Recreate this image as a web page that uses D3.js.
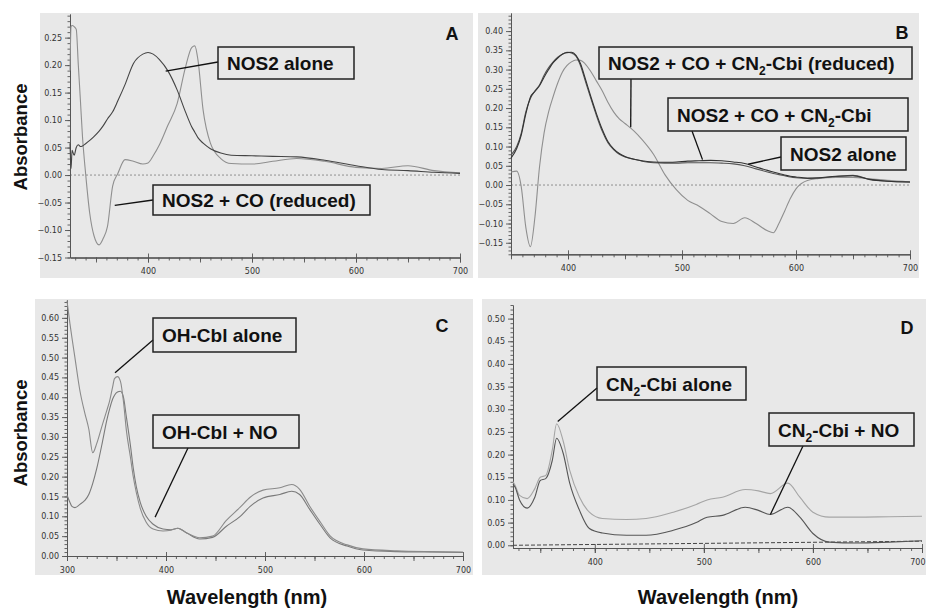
<!DOCTYPE html>
<html>
<head>
<meta charset="utf-8">
<script src="https://cdnjs.cloudflare.com/ajax/libs/d3/7.8.5/d3.min.js"></script>
<style>
body { margin: 0; background: #fff; }
svg { display: block; }
.tick text { font-family: "DejaVu Sans", sans-serif; font-size: 8px; fill: #333; }
</style>
</head>
<body>
<svg id="viz" width="926" height="614"></svg>
<script>
// panel A: NOS2 alone vs NOS2 + CO (reduced)
var waveA = [325, 326, 327, 329, 331, 333, 335, 337, 340, 344, 348, 353, 357, 361, 366, 371, 378, 386, 395, 400, 405, 411, 419, 428, 436, 442, 445, 448, 453, 460, 470, 480, 500, 520, 543, 570, 600, 625, 650, 675, 700];
var nos2AloneA = [0.058, 0.012, 0.045, 0.036, 0.05, 0.055, 0.052, 0.053, 0.057, 0.063, 0.07, 0.08, 0.09, 0.102, 0.115, 0.135, 0.165, 0.203, 0.22, 0.223, 0.22, 0.21, 0.19, 0.155, 0.115, 0.088, 0.078, 0.068, 0.058, 0.048, 0.04, 0.036, 0.035, 0.034, 0.033, 0.027, 0.017, 0.01, 0.008, 0.005, 0.003];
var nos2CoA = [0.19, 0.27, 0.272, 0.27, 0.265, 0.2, 0.136, 0.07, 0.003, -0.07, -0.11, -0.127, -0.115, -0.094, -0.02, 0.003, 0.028, 0.025, 0.02, 0.022, 0.035, 0.055, 0.09, 0.13, 0.196, 0.232, 0.235, 0.21, 0.118, 0.058, 0.03, 0.021, 0.02, 0.025, 0.03, 0.025, 0.014, 0.012, 0.017, 0.008, 0.004];

// panel B: NOS2 alone, NOS2 + CO + CN2-Cbi, same reduced
var waveB = [350, 355, 359, 363, 367, 371, 375, 379, 383, 387, 391, 395, 399, 403, 407, 411, 415, 420, 425, 430, 435, 440, 445, 450, 458, 465, 475, 485, 495, 505, 515, 525, 535, 545, 555, 565, 575, 580, 585, 590, 595, 600, 610, 620, 635, 650, 665, 680, 700];
var nos2AloneB = [0.078, 0.1, 0.135, 0.19, 0.225, 0.245, 0.26, 0.285, 0.305, 0.32, 0.332, 0.34, 0.345, 0.343, 0.335, 0.31, 0.272, 0.225, 0.18, 0.14, 0.11, 0.092, 0.08, 0.073, 0.067, 0.062, 0.058, 0.057, 0.057, 0.058, 0.058, 0.058, 0.057, 0.055, 0.05, 0.042, 0.034, 0.03, 0.027, 0.024, 0.021, 0.019, 0.017, 0.018, 0.022, 0.025, 0.015, 0.01, 0.008];
var nos2CoCbiB = [0.07, 0.095, 0.13, 0.185, 0.228, 0.243, 0.258, 0.28, 0.3, 0.318, 0.33, 0.34, 0.344, 0.345, 0.337, 0.315, 0.278, 0.23, 0.185, 0.145, 0.113, 0.094, 0.082, 0.074, 0.067, 0.063, 0.06, 0.059, 0.06, 0.062, 0.063, 0.064, 0.063, 0.06, 0.056, 0.047, 0.038, 0.034, 0.03, 0.026, 0.023, 0.021, 0.018, 0.019, 0.023, 0.024, 0.014, 0.01, 0.008];
var nos2CoCbiRedB = [0.034, 0.036, -0.005, -0.11, -0.16, -0.083, 0.047, 0.135, 0.19, 0.23, 0.265, 0.293, 0.31, 0.32, 0.325, 0.324, 0.315, 0.295, 0.27, 0.245, 0.215, 0.19, 0.172, 0.16, 0.14, 0.118, 0.08, 0.027, -0.012, -0.04, -0.055, -0.075, -0.095, -0.1, -0.085, -0.1, -0.119, -0.124, -0.1, -0.068, -0.035, -0.01, 0.012, 0.017, 0.02, 0.02, 0.016, 0.012, 0.008];

// panel C: OH-Cbl alone vs OH-Cbl + NO
var waveC = [300, 303, 305, 308, 313, 318, 322, 326, 330, 336, 340, 343, 346, 348, 351, 354, 357, 360, 364, 367, 370, 374, 380, 387, 397, 405, 412, 421, 434, 447, 461, 475, 485, 498, 515, 527, 535, 545, 556, 566, 583, 599, 633, 665, 700];
var ohCblAloneC = [0.643, 0.585, 0.55, 0.5, 0.417, 0.36, 0.32, 0.26, 0.283, 0.333, 0.365, 0.39, 0.425, 0.447, 0.452, 0.44, 0.39, 0.316, 0.25, 0.199, 0.16, 0.12, 0.085, 0.068, 0.063, 0.065, 0.07, 0.058, 0.046, 0.05, 0.09, 0.123, 0.148, 0.166, 0.172, 0.18, 0.168, 0.126, 0.085, 0.05, 0.028, 0.018, 0.013, 0.011, 0.01];
var ohCblNoC = [0.153, 0.135, 0.125, 0.122, 0.13, 0.14, 0.155, 0.183, 0.22, 0.29, 0.34, 0.37, 0.395, 0.405, 0.413, 0.415, 0.4, 0.35, 0.28, 0.22, 0.175, 0.135, 0.1, 0.08, 0.068, 0.066, 0.07, 0.058, 0.043, 0.047, 0.075, 0.1, 0.125, 0.146, 0.155, 0.163, 0.155, 0.118, 0.078, 0.045, 0.025, 0.015, 0.011, 0.01, 0.009];

// panel D: CN2-Cbi alone vs CN2-Cbi + NO
var waveD = [325, 327, 331, 338, 345, 350, 355, 361, 365, 371, 377, 386, 395, 407, 429, 447, 472, 493, 503, 517, 538, 550, 561, 577, 588, 600, 615, 640, 670, 700];
var cn2CbiAloneD = [0.14, 0.132, 0.11, 0.103, 0.125, 0.15, 0.154, 0.21, 0.268, 0.23, 0.165, 0.106, 0.073, 0.059, 0.057, 0.059, 0.073, 0.09, 0.1, 0.106, 0.123, 0.12, 0.114, 0.137, 0.106, 0.073, 0.062, 0.062, 0.063, 0.064];
var cn2CbiNoD = [0.135, 0.128, 0.1, 0.082, 0.106, 0.143, 0.147, 0.187, 0.236, 0.203, 0.137, 0.077, 0.037, 0.027, 0.022, 0.022, 0.033, 0.05, 0.062, 0.066, 0.084, 0.077, 0.068, 0.084, 0.062, 0.026, 0.007, 0.005, 0.007, 0.01];
var baseWaveD = [325, 700];
var baseLineD = [0.0, 0.009];

// tick labels
var yTicksA = [-0.15, -0.10, -0.05, 0.00, 0.05, 0.10, 0.15, 0.20, 0.25];
var yTicksB = [-0.15, -0.10, -0.05, 0.00, 0.05, 0.10, 0.15, 0.20, 0.25, 0.30, 0.35, 0.40];
var yTicksC = [0.00, 0.05, 0.10, 0.15, 0.20, 0.25, 0.30, 0.35, 0.40, 0.45, 0.50, 0.55, 0.60];
var yTicksD = [0.00, 0.05, 0.10, 0.15, 0.20, 0.25, 0.30, 0.35, 0.40, 0.45, 0.50];
var xTicksA = [400, 500, 600, 700];
var xTicksB = [400, 500, 600, 700];
var xTicksC = [300, 400, 500, 600, 700];
var xTicksD = [400, 500, 600, 700];

var svg = d3.select("#viz");

// the four panels, layout only
var panels = [
	{
		letter: "A", bg: [40, 13, 433, 265], letterAt: [452, 40],
		xDomain: [325, 700], xRange: [70, 460], yDomain: [-0.15, 0.293], yRange: [257.5, 14],
		xTicks: xTicksA, yTicks: yTicksA, zeroLine: true,
		series: [
			{wave: waveA, vals: nos2CoA, color: "#8f8f8f"},
			{wave: waveA, vals: nos2AloneA, color: "#444"}
		],
		notes: [
			{box: [218, 47, 136, 32], text: "NOS2 alone", from: [218, 62], to: [417, 0.189]},
			{box: [153, 185, 217, 30], text: "NOS2 + CO (reduced)", from: [153, 200], to: [368, -0.055]}
		]
	},
	{
		letter: "B", bg: [478, 13, 441, 265], letterAt: [902, 39],
		xDomain: [350, 700], xRange: [511, 910], yDomain: [-0.18, 0.447], yRange: [254.3, 13],
		xTicks: xTicksB, yTicks: yTicksB, zeroLine: true,
		series: [
			{wave: waveB, vals: nos2CoCbiRedB, color: "#8f8f8f"},
			{wave: waveB, vals: nos2AloneB, color: "#555"},
			{wave: waveB, vals: nos2CoCbiB, color: "#333"}
		],
		notes: [
			{box: [599, 47, 313, 32], text: "NOS2 + CO + CN_2-Cbi (reduced)", from: [631, 79], to: [455, 0.15]},
			{box: [668, 98, 240, 33], text: "NOS2 + CO + CN_2-Cbi", from: [692, 131], to: [518, 0.066]},
			{box: [781, 137, 125, 33], text: "NOS2 alone", from: [781, 157], to: [558, 0.054]}
		]
	},
	{
		letter: "C", bg: [35, 299, 438, 276], letterAt: [442, 332],
		xDomain: [300, 700], xRange: [67, 463], yDomain: [0, 0.645], yRange: [556, 300],
		xTicks: xTicksC, yTicks: yTicksC, zeroLine: false,
		series: [
			{wave: waveC, vals: ohCblNoC, color: "#7a7a7a"},
			{wave: waveC, vals: ohCblAloneC, color: "#8a8a8a"}
		],
		notes: [
			{box: [153, 318, 143, 34], text: "OH-Cbl alone", from: [153, 340], to: [348.5, 0.462]},
			{box: [153, 415, 146, 33], text: "OH-Cbl + NO", from: [188, 448], to: [389, 0.098]}
		]
	},
	{
		letter: "D", bg: [482, 299, 444, 276], letterAt: [907, 334],
		xDomain: [325, 700], xRange: [513, 922], yDomain: [-0.006, 0.53], yRange: [548, 305],
		xTicks: xTicksD, yTicks: yTicksD, zeroLine: false,
		series: [
			{wave: baseWaveD, vals: baseLineD, color: "#444", dash: "4,2"},
			{wave: waveD, vals: cn2CbiAloneD, color: "#a5a5a5"},
			{wave: waveD, vals: cn2CbiNoD, color: "#555"}
		],
		notes: [
			{box: [597, 367, 149, 33], text: "CN_2-Cbi alone", from: [597, 388], to: [366, 0.273]},
			{box: [769, 413, 145, 33], text: "CN_2-Cbi + NO", from: [803, 446], to: [561, 0.068]}
		]
	}
];

// writes a label, "_2" becomes a subscript 2
function writeLabel(textSel, label){

	var parts = label.split("_2");
	parts.forEach(function(part, i){
		if(i > 0){
			textSel.append("tspan").attr("font-size", 12).attr("dy", 5).text("2");
			textSel.append("tspan").attr("dy", -5).text(part);
		}
		else{
			textSel.append("tspan").text(part);
		}
	});
}

function drawPanel(p){

	var x = d3.scaleLinear().domain(p.xDomain).range(p.xRange);
	var y = d3.scaleLinear().domain(p.yDomain).range(p.yRange);
	var g = svg.append("g");

	g.append("rect")
		.attr("x", p.bg[0]).attr("y", p.bg[1])
		.attr("width", p.bg[2]).attr("height", p.bg[3])
		.attr("fill", "#e8e8e8");

	if(p.zeroLine){
		g.append("line")
			.attr("x1", x(p.xDomain[0])).attr("x2", x(p.xDomain[1]))
			.attr("y1", y(0)).attr("y2", y(0))
			.attr("stroke", "#777").attr("stroke-width", 0.8)
			.attr("stroke-dasharray", "2,2");
	}

	// minor ticks first, the labelled axis on top
	var lo = Math.ceil(p.yDomain[0] * 100), hi = Math.floor(p.yDomain[1] * 100);
	var yMinor = d3.range(lo, hi + 1).map(function(v){ return v / 100; });
	var xMinor = d3.range(Math.ceil(p.xDomain[0] / 10) * 10, p.xDomain[1] + 1, 10);
	var xMid = xMinor.filter(function(v){ return v % 50 == 0; });

	var yMinorAxis = g.append("g").attr("transform", "translate(" + p.xRange[0] + ",0)")
		.call(d3.axisLeft(y).tickValues(yMinor).tickSize(2.5).tickFormat("").tickSizeOuter(0));
	var xMinorAxis = g.append("g").attr("transform", "translate(0," + p.yRange[0] + ")")
		.call(d3.axisBottom(x).tickValues(xMinor).tickSize(3).tickFormat("").tickSizeOuter(0));
	var xMidAxis = g.append("g").attr("transform", "translate(0," + p.yRange[0] + ")")
		.call(d3.axisBottom(x).tickValues(xMid).tickSize(5).tickFormat("").tickSizeOuter(0));

	var yAxis = g.append("g").attr("transform", "translate(" + p.xRange[0] + ",0)")
		.call(d3.axisLeft(y).tickValues(p.yTicks).tickSize(5).tickPadding(3)
			.tickFormat(d3.format(".2f")).tickSizeOuter(0));
	var xAxis = g.append("g").attr("transform", "translate(0," + p.yRange[0] + ")")
		.call(d3.axisBottom(x).tickValues(p.xTicks).tickSize(5).tickPadding(6)
			.tickFormat(d3.format("d")).tickSizeOuter(0));
	xAxis.selectAll(".tick line").attr("y1", -4);

	// keep a label at the right edge of the page inside it
	xAxis.selectAll(".tick text").each(function(){
		var box = this.getBBox();
		var right = x(d3.select(this.parentNode).datum()) + box.x + box.width;
		if(right > 925){
			d3.select(this).attr("text-anchor", "end").attr("x", 925 - right + box.width / 2);
		}
	});

	[yMinorAxis, xMinorAxis, xMidAxis, yAxis, xAxis].forEach(function(a){
		a.attr("font-family", null).attr("font-size", null);
		a.selectAll("path, line").attr("stroke", "#555").attr("stroke-width", 0.9);
	});

	var line = d3.line()
		.x(function(d){ return x(d[0]); })
		.y(function(d){ return y(d[1]); })
		.curve(d3.curveMonotoneX);

	p.series.forEach(function(s){
		g.append("path")
			.datum(d3.zip(s.wave, s.vals))
			.attr("d", line)
			.attr("fill", "none")
			.attr("stroke", s.color)
			.attr("stroke-width", s.dash ? 1 : 1.1)
			.attr("stroke-dasharray", s.dash || null);
	});

	p.notes.forEach(function(n){
		g.append("line")
			.attr("x1", n.from[0]).attr("y1", n.from[1])
			.attr("x2", x(n.to[0])).attr("y2", y(n.to[1]))
			.attr("stroke", "#111").attr("stroke-width", 1.3);
		g.append("rect")
			.attr("x", n.box[0]).attr("y", n.box[1])
			.attr("width", n.box[2]).attr("height", n.box[3])
			.attr("fill", "none").attr("stroke", "#222").attr("stroke-width", 1.5);
		var t = g.append("text")
			.attr("x", n.box[0] + 9).attr("y", n.box[1] + n.box[3] / 2 + 7)
			.attr("font-family", "Arial, 'Liberation Sans', sans-serif")
			.attr("font-weight", "bold").attr("font-size", 19).attr("fill", "#111");
		writeLabel(t, n.text);
	});

	g.append("text")
		.attr("x", p.letterAt[0]).attr("y", p.letterAt[1])
		.attr("text-anchor", "middle")
		.attr("font-family", "Arial, 'Liberation Sans', sans-serif")
		.attr("font-weight", "bold").attr("font-size", 18).attr("fill", "#111")
		.text(p.letter);
}

panels.forEach(drawPanel);

// axis titles
[137, 433].forEach(function(cy){
	svg.append("text")
		.attr("transform", "translate(27," + cy + ") rotate(-90)")
		.attr("text-anchor", "middle")
		.attr("font-family", "Arial, 'Liberation Sans', sans-serif")
		.attr("font-weight", "bold").attr("font-size", 18.5).attr("fill", "#111")
		.text("Absorbance");
});
[247, 718].forEach(function(cx){
	svg.append("text")
		.attr("x", cx).attr("y", 604)
		.attr("text-anchor", "middle")
		.attr("font-family", "Arial, 'Liberation Sans', sans-serif")
		.attr("font-weight", "bold").attr("font-size", 20).attr("fill", "#111")
		.text("Wavelength (nm)");
});
</script>
</body>
</html>
